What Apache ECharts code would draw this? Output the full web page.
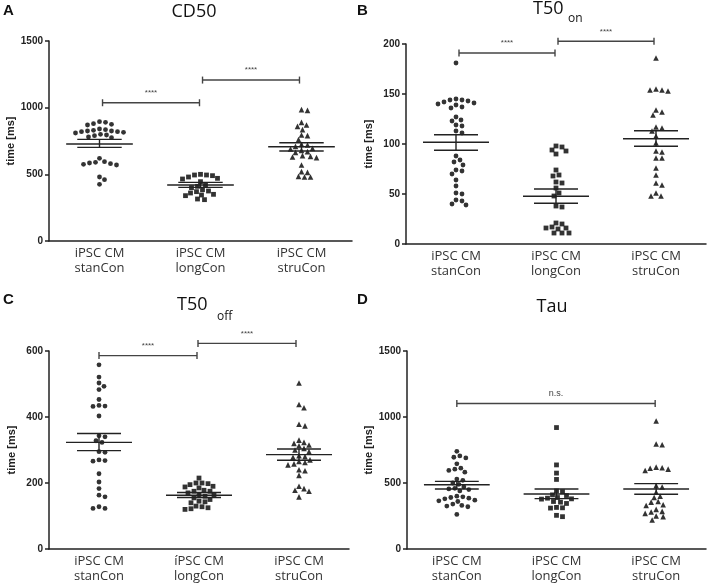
<!DOCTYPE html>
<html><head><meta charset="utf-8">
<script src="https://cdn.jsdelivr.net/npm/echarts@6/dist/echarts.min.js"></script>
<style>html,body{margin:0;padding:0;background:#fff}#c{width:708px;height:584px}</style>
</head><body><div id="c"></div>
<script>
// ---- categories ----
const categoriesABD = ['iPSC CM\nstanCon', 'iPSC CM\nlongCon', 'iPSC CM\nstruCon'];
const categoriesC = ['iPSC CM\nstanCon', 'íPSC CM\nlongCon', 'iPSC CM\nstruCon'];

// ---- Panel A: CD50 [ms] ----
const cd50Stan = [895, 890, 880, 875, 870, 840, 835, 830, 825, 825, 820, 820, 815, 810, 800, 795, 790, 780, 775, 620, 595, 590, 585, 580, 575, 570, 480, 460, 425];
const cd50Long = [500, 495, 495, 490, 480, 470, 465, 445, 420, 410, 400, 385, 375, 370, 360, 350, 345, 340, 315, 310];
const cd50Stru = [985, 980, 890, 870, 860, 835, 795, 790, 760, 725, 720, 710, 695, 690, 680, 670, 665, 640, 635, 630, 625, 570, 520, 515, 485, 480, 480];
const cd50Mean = [727, 420, 707];
const cd50SemLo = [702, 402, 675];
const cd50SemHi = [762, 440, 737];
const cd50Brackets = [[1.03, 1.99, 1037, '****'], [2.02, 2.98, 1207, '****']];
const cd50Ticks = [0, 500, 1000, 1500];

// ---- Panel B: T50 on [ms] ----
const t50onStan = [181, 145, 144, 144, 143, 142, 141, 140, 139, 137, 136, 127, 124, 123, 119, 118, 113, 111, 88, 84, 82, 79, 74, 73, 70, 64, 58, 51, 50, 44, 43, 40, 39];
const t50onLong = [98, 97, 94, 93, 90, 74, 69, 68, 62, 61, 56, 51, 48, 38, 37, 21, 20, 17, 16, 16, 15, 11, 11, 11];
const t50onStru = [186, 155, 154, 154, 153, 134, 132, 129, 117, 116, 113, 108, 101, 93, 92, 86, 86, 76, 69, 61, 59, 51, 48, 48];
const t50onMean = [101.7, 47.7, 105.3];
const t50onSemLo = [93.7, 40.7, 97.7];
const t50onSemHi = [109.3, 55, 113.3];
const t50onBrackets = [[1.03, 1.99, 191, '****'], [2.02, 2.98, 202.7, '****']];
const t50onTicks = [0, 50, 100, 150, 200];

// ---- Panel C: T50 off [ms] ----
const t50offStan = [558, 521, 503, 493, 483, 453, 435, 433, 432, 403, 343, 340, 328, 323, 295, 293, 270, 268, 266, 228, 203, 183, 163, 158, 128, 123, 123];
const t50offLong = [215, 200, 200, 198, 195, 190, 188, 185, 178, 175, 175, 170, 165, 163, 160, 155, 150, 145, 143, 140, 130, 128, 125, 122, 120];
const t50offStru = [503, 438, 428, 378, 373, 330, 323, 320, 315, 313, 305, 300, 295, 283, 280, 278, 270, 265, 262, 258, 255, 240, 237, 223, 190, 183, 178, 175, 158];
const t50offMean = [323, 163, 286];
const t50offSemLo = [298, 156, 269];
const t50offSemHi = [350, 171, 303];
const t50offBrackets = [[1.0, 1.98, 586, '****'], [1.99, 2.97, 623, '****']];
const t50offTicks = [0, 200, 400, 600];

// ---- Panel D: Tau [ms] ----
const tauStan = [740, 705, 695, 690, 645, 612, 605, 595, 582, 530, 520, 500, 490, 470, 460, 455, 450, 440, 400, 395, 390, 385, 380, 370, 365, 360, 340, 330, 325, 320, 262];
const tauLong = [920, 637, 575, 527, 440, 435, 410, 405, 390, 385, 380, 378, 360, 355, 345, 315, 312, 310, 255, 245];
const tauStru = [970, 795, 790, 620, 615, 612, 605, 595, 480, 470, 430, 400, 390, 360, 355, 335, 330, 300, 285, 280, 270, 250, 245, 220];
const tauMean = [487, 417, 455];
const tauSemLo = [455, 382, 415];
const tauSemHi = [512, 455, 495];
const tauBrackets = [[1.0, 2.99, 1102, 'n.s.']];
const tauTicks = [0, 500, 1000, 1500];

// ---- layout (not data) ----
const panels = [
  {grid: {left: 49, top: 41, width: 303, height: 200}, cats: categoriesABD, ticks: cd50Ticks,
   groups: [cd50Stan, cd50Long, cd50Stru], mean: cd50Mean, lo: cd50SemLo, hi: cd50SemHi, br: cd50Brackets},
  {grid: {left: 406, top: 44, width: 300, height: 200}, cats: categoriesABD, ticks: t50onTicks,
   groups: [t50onStan, t50onLong, t50onStru], mean: t50onMean, lo: t50onSemLo, hi: t50onSemHi, br: t50onBrackets},
  {grid: {left: 49, top: 351, width: 300, height: 200}, cats: categoriesC, ticks: t50offTicks,
   groups: [t50offStan, t50offLong, t50offStru], mean: t50offMean, lo: t50offSemLo, hi: t50offSemHi, br: t50offBrackets},
  {grid: {left: 407, top: 351, width: 299, height: 200}, cats: categoriesABD, ticks: tauTicks,
   groups: [tauStan, tauLong, tauStru], mean: tauMean, lo: tauSemLo, hi: tauSemHi, br: tauBrackets}
];
const symbols = ['circle', 'rect', 'triangle'];
const symbolSizes = [4.8, 4.8, 5.6];

// beeswarm: horizontal offsets (in category units) so symbols don't overlap much
function swarm(values, ymax, plotH, bandW, d) {
  const ppu = plotH / ymax;
  const order = values.map((v, i) => i).sort((a, b) => values[b] - values[a]);
  const placed = [];
  const out = new Array(values.length);
  for (const i of order) {
    const y = values[i] * ppu;
    let off = 0;
    for (let k = 0; k < 400; k++) {
      const cand = k === 0 ? 0 : (k % 2 ? 1 : -1) * Math.ceil(k / 2);
      const ok = placed.every(p => (p[0] - cand) ** 2 + (p[1] - y) ** 2 >= d * d);
      if (ok) { off = cand; break; }
    }
    placed.push([off, y]);
    out[i] = off / bandW;
  }
  return out;
}

const grids = [], xAxes = [], yAxes = [], series = [];
panels.forEach((p, pi) => {
  grids.push(p.grid);
  const ymax = p.ticks[p.ticks.length - 1];
  xAxes.push({
    type: 'category', gridIndex: pi, data: p.cats, boundaryGap: true,
    axisLine: {lineStyle: {color: '#222', width: 1.5}},
    axisTick: {alignWithLabel: true, length: 4, lineStyle: {color: '#222', width: 1.5}},
    axisLabel: {fontFamily: 'Open Sans', fontSize: 13, lineHeight: 15, color: '#333', margin: 5}
  });
  xAxes.push({type: 'value', gridIndex: pi, min: 0.5, max: 3.5, show: false});
  yAxes.push({
    type: 'value', gridIndex: pi, min: 0, max: ymax, interval: p.ticks[1] - p.ticks[0],
    name: 'time [ms]', nameLocation: 'middle', nameGap: 32,
    nameTextStyle: {fontFamily: 'Liberation Sans', fontWeight: 'bold', fontSize: 11, color: '#222'},
    axisLine: {show: true, lineStyle: {color: '#222', width: 1.5}},
    axisTick: {show: true, length: 4, lineStyle: {color: '#222', width: 1.5}},
    splitLine: {show: false},
    axisLabel: {fontFamily: 'Liberation Sans', fontWeight: 'bold', fontSize: 10, color: '#222', margin: 6,
                formatter: v => String(v)}
  });
  const bandW = p.grid.width / 3;
  p.groups.forEach((vals, gi) => {
    const offs = swarm(vals, ymax, p.grid.height, bandW, 5.4);
    series.push({
      type: 'scatter', xAxisIndex: pi * 2 + 1, yAxisIndex: pi,
      symbol: symbols[gi], symbolSize: symbolSizes[gi],
      itemStyle: {color: '#000'}, silent: true,
      data: vals.map((v, i) => [gi + 1 + offs[i], v])
    });
  });
  // mean +- SEM
  series.push({
    type: 'custom', xAxisIndex: pi * 2 + 1, yAxisIndex: pi, silent: true, z: 5,
    encode: {x: 0, y: [1, 2, 3]},
    data: p.mean.map((m, i) => [i + 1, m, p.lo[i], p.hi[i]]),
    renderItem: (params, api) => {
      const x = api.value(0);
      const c = api.coord([x, api.value(1)]);
      const cl = api.coord([x, api.value(2)]);
      const ch = api.coord([x, api.value(3)]);
      const bw = api.size([1, 0])[0];
      const st = {stroke: '#222', lineWidth: 1.4};
      return {type: 'group', children: [
        {type: 'line', shape: {x1: c[0] - bw * 0.33, y1: c[1], x2: c[0] + bw * 0.33, y2: c[1]}, style: st},
        {type: 'line', shape: {x1: c[0] - bw * 0.22, y1: cl[1], x2: c[0] + bw * 0.22, y2: cl[1]}, style: st},
        {type: 'line', shape: {x1: c[0] - bw * 0.22, y1: ch[1], x2: c[0] + bw * 0.22, y2: ch[1]}, style: st},
        {type: 'line', shape: {x1: c[0], y1: cl[1], x2: c[0], y2: ch[1]}, style: st}
      ]};
    }
  });
  // significance brackets
  series.push({
    type: 'custom', xAxisIndex: pi * 2 + 1, yAxisIndex: pi, silent: true, clip: false, z: 5,
    encode: {x: [0, 1], y: 2},
    data: p.br.map(b => [b[0], b[1], b[2]]),
    renderItem: (params, api) => {
      const a = api.coord([api.value(0), api.value(2)]);
      const b = api.coord([api.value(1), api.value(2)]);
      const label = p.br[params.dataIndex][3];
      const st = {stroke: '#444', lineWidth: 1.4};
      return {type: 'group', children: [
        {type: 'line', shape: {x1: a[0], y1: a[1], x2: b[0], y2: b[1]}, style: st},
        {type: 'line', shape: {x1: a[0], y1: a[1] - 3.5, x2: a[0], y2: a[1] + 3.5}, style: st},
        {type: 'line', shape: {x1: b[0], y1: b[1] - 3.5, x2: b[0], y2: b[1] + 3.5}, style: st},
        {type: 'text', x: (a[0] + b[0]) / 2, y: a[1] - 10,
         style: {text: label, fill: '#444', font: (label === 'n.s.' ? '9px' : '8px') + ' "Liberation Sans"', align: 'center', verticalAlign: 'middle'}}
      ]};
    }
  });
});

const titleFont = '18px "Open Sans"';
const subFont = '12px "Open Sans"';
const letterFont = 'bold 15px "Liberation Sans"';
const txt = (x, y, text, font, align) => ({type: 'text', x, y, style: {text, font, fill: '#111', align: align || 'left', verticalAlign: 'middle'}});
const graphic = [
  txt(3, 11, 'A', letterFont), txt(357, 11, 'B', letterFont),
  txt(3, 300, 'C', letterFont), txt(357, 300, 'D', letterFont),
  txt(194, 12, 'CD50', titleFont, 'center'),
  txt(533, 9, 'T50', titleFont), txt(568, 19, 'on', subFont),
  txt(177, 305, 'T50', titleFont), txt(217, 317, 'off', subFont),
  txt(552, 307, 'Tau', titleFont, 'center')
];

const chart = echarts.init(document.getElementById('c'), null, {renderer: 'canvas'});
chart.setOption({
  animation: false, backgroundColor: '#fff',
  grid: grids, xAxis: xAxes, yAxis: yAxes, series, graphic
});
</script></body></html>
